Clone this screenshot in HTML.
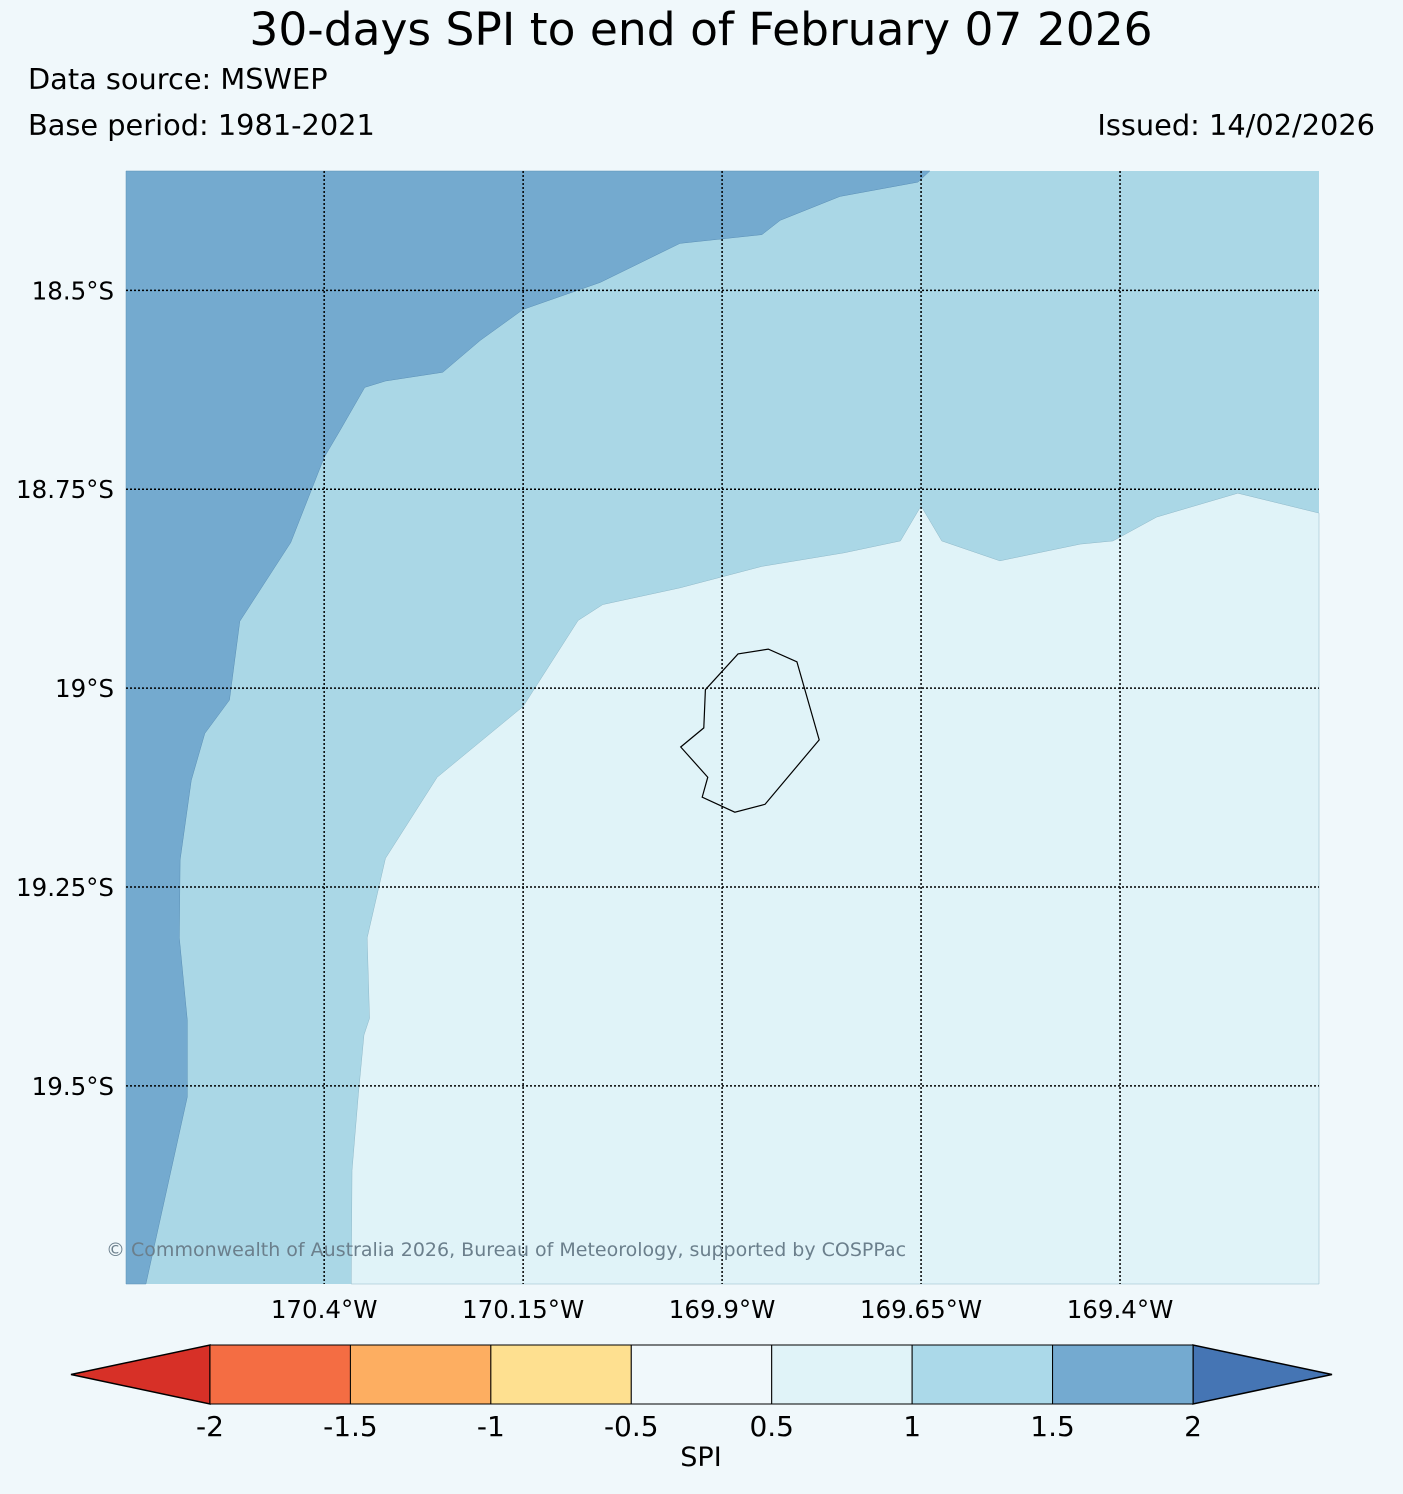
<!DOCTYPE html>
<html><head><meta charset="utf-8">
<style>
body{margin:0;background:#f0f8fb;font-family:"Liberation Sans","DejaVu Sans",sans-serif;}
svg{display:block}
</style></head>
<body>
<svg id="c" width="1403" height="1494" xmlns="http://www.w3.org/2000/svg">
<rect width="1403" height="1494" fill="#f0f8fb"/>
<text x="701" y="45" font-size="45.5" text-anchor="middle" fill="#000" font-family="DejaVu Sans, sans-serif">30-days SPI to end of February 07 2026</text>
<text x="28" y="89" font-size="28.8" font-family="DejaVu Sans, sans-serif">Data source: MSWEP</text>
<text x="28" y="135" font-size="28.8" font-family="DejaVu Sans, sans-serif">Base period: 1981-2021</text>
<text x="1375" y="135" font-size="28.8" text-anchor="end" font-family="DejaVu Sans, sans-serif">Issued: 14/02/2026</text>
<g id="map"></g>
<g id="cbar"></g>
</svg>
<script>
// Data
const lonTicks = [-170.4, -170.15, -169.9, -169.65, -169.4];
const lonTickLabels = ["170.4°W","170.15°W","169.9°W","169.65°W","169.4°W"];
const latTicks = [-18.5, -18.75, -19, -19.25, -19.5];
const latTickLabels = ["18.5°S","18.75°S","19°S","19.25°S","19.5°S"];
const extent = {lonMin:-170.649, lonMax:-169.150, latMax:-18.350, latMin:-19.749};
const darkBoundaryLon = [-169.639,-169.654,-169.752,-169.827,-169.850,-169.953,-170.053,-170.150,-170.204,-170.251,-170.323,-170.349,-170.380,-170.400,-170.442,-170.506,-170.519,-170.550,-170.567,-170.581,-170.582,-170.572,-170.572,-170.624];
const darkBoundaryLat = [-18.350,-18.364,-18.382,-18.412,-18.430,-18.441,-18.490,-18.524,-18.563,-18.603,-18.614,-18.622,-18.676,-18.710,-18.817,-18.916,-19.015,-19.057,-19.116,-19.216,-19.314,-19.417,-19.514,-19.749];
const paleBoundaryLon = [-170.366,-170.365,-170.357,-170.350,-170.343,-170.346,-170.323,-170.258,-170.150,-170.081,-170.050,-169.953,-169.850,-169.747,-169.676,-169.650,-169.624,-169.551,-169.450,-169.409,-169.354,-169.252,-169.150];
const paleBoundaryLat = [-19.749,-19.606,-19.510,-19.436,-19.415,-19.314,-19.214,-19.112,-19.023,-18.915,-18.895,-18.874,-18.847,-18.830,-18.815,-18.771,-18.815,-18.840,-18.819,-18.815,-18.785,-18.755,-18.780];
const islandLon = [-169.921,-169.880,-169.842,-169.806,-169.778,-169.846,-169.884,-169.925,-169.918,-169.952,-169.923];
const islandLat = [-19.002,-18.957,-18.951,-18.967,-19.065,-19.146,-19.156,-19.137,-19.112,-19.074,-19.050];
const cbarLabels = ["-2","-1.5","-1","-0.5","0.5","1","1.5","2"];
const cbarColors = ["#f46d43","#fdae61","#fee090","#f0f8fb","#e0f3f8","#abd9e9","#74aad0"];
const cbarUnder = "#d73027", cbarOver = "#4575b4";

const NS="http://www.w3.org/2000/svg";
const px0=126, px1=1319, py0=171, py1=1284;
const xS = lon => px0 + (lon-extent.lonMin)/(extent.lonMax-extent.lonMin)*(px1-px0);
const yS = lat => py0 + (extent.latMax-lat)/(extent.latMax-extent.latMin)*(py1-py0);
function mk(tag, attrs, parent){const e=document.createElementNS(NS,tag);for(const k in attrs)e.setAttribute(k,attrs[k]);parent.appendChild(e);return e;}
const map=document.getElementById('map');

let r=mk('rect',{x:px0,y:py0,width:px1-px0,height:py1-py0,fill:'#aad7e6'},map);



let pts=darkBoundaryLon.map((l,i)=>xS(l)+','+yS(darkBoundaryLat[i]));
pts.push(px0+','+py1, px0+','+py0);
let p=mk('polygon',{points:pts.join(' '),fill:'#74aacf',stroke:'#5a8fb5','stroke-width':0.5},map);



pts=paleBoundaryLon.map((l,i)=>xS(l)+','+yS(paleBoundaryLat[i]));
pts.push(px1+','+py1);
p=mk('polygon',{points:pts.join(' '),fill:'#e0f3f8',stroke:'#8fb8c8','stroke-width':0.5},map);



lonTicks.forEach((l,i)=>{
  const x=xS(l);
  let g=mk('line',{x1:x,x2:x,y1:py0,y2:py1,stroke:'#000','stroke-width':1.5,'stroke-dasharray':'2,2'},map);
  
  
  let t=mk('text',{x:x,y:1318,'font-size':24.5,'text-anchor':'middle','font-family':'DejaVu Sans, sans-serif'},map);
  t.textContent=lonTickLabels[i];
  
  
});
latTicks.forEach((l,i)=>{
  const y=yS(l);
  let g=mk('line',{x1:px0,x2:px1,y1:y,y2:y,stroke:'#000','stroke-width':1.5,'stroke-dasharray':'2,2'},map);
  
  
  let t=mk('text',{x:114,y:y+9,'font-size':24.5,'text-anchor':'end','font-family':'DejaVu Sans, sans-serif'},map);
  t.textContent=latTickLabels[i];
  
  
});

pts=islandLon.map((l,i)=>xS(l)+','+yS(islandLat[i]));
p=mk('polygon',{points:pts.join(' '),fill:'none',stroke:'#000','stroke-width':1.2},map);



let cp=mk('text',{x:106,y:1256,'font-size':19,fill:'#6b7f8c','font-family':'DejaVu Sans, sans-serif'},map);
cp.textContent='© Commonwealth of Australia 2026, Bureau of Meteorology, supported by COSPPac';



// colorbar
const cb=document.getElementById('cbar');
const cx0=210, cx1=1193, cy0=1345, cy1=1404, cym=(cy0+cy1)/2;
const cw=(cx1-cx0)/cbarColors.length;
let tri=mk('polygon',{points:`71,${cym} ${cx0},${cy0} ${cx0},${cy1}`,fill:cbarUnder,stroke:'#000','stroke-width':1.5},cb);


tri=mk('polygon',{points:`1332,${cym} ${cx1},${cy0} ${cx1},${cy1}`,fill:cbarOver,stroke:'#000','stroke-width':1.5},cb);


cbarColors.forEach((c,i)=>{
  let b=mk('rect',{x:cx0+i*cw,y:cy0,width:cw,height:cy1-cy0,fill:c,stroke:'#000','stroke-width':1},cb);
  
  
});
cbarLabels.forEach((s,i)=>{
  let t=mk('text',{x:cx0+i*cw,y:1436,'font-size':28,'text-anchor':'middle','font-family':'DejaVu Sans, sans-serif'},cb);
  t.textContent=s;
  
  
});
let st=mk('text',{x:701,y:1466,'font-size':27,'text-anchor':'middle','font-family':'DejaVu Sans, sans-serif'},cb);
st.textContent='SPI';


</script>
</body></html>
